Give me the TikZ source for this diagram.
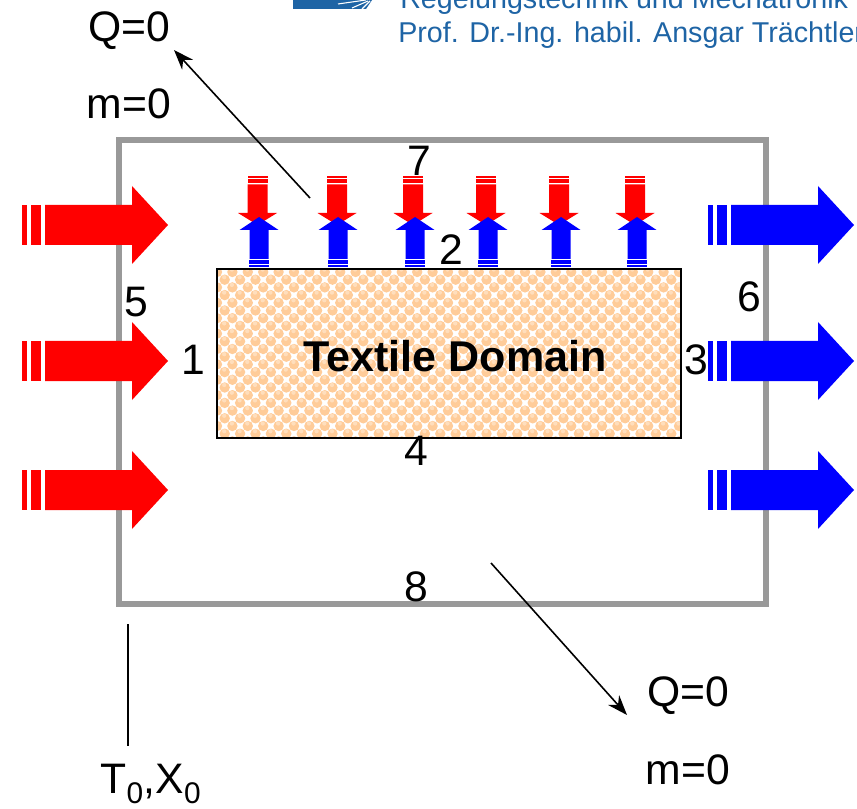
\documentclass[tikz,border=0pt]{standalone}
\usepackage{fontspec}
\setmainfont{Liberation Sans}
\usetikzlibrary{arrows.meta}
\definecolor{boxgray}{RGB}{153,153,153}
\definecolor{logoblue}{RGB}{30,100,165}
\definecolor{bubble}{RGB}{255,204,153}
\definecolor{bubblelight}{RGB}{255,222,188}
\tikzset{
  lbl/.style={font=\fontsize{32}{36}\selectfont,inner sep=0pt,text=black},
  logotext/.style={font=\fontsize{21.5}{24}\selectfont,inner sep=0pt,text=logoblue,anchor=base west},
  thin arrow/.style={draw=black,line width=1.2pt,-{Stealth[length=15pt,width=11pt]}},
  thin line/.style={draw=black,line width=1.2pt}
}
% horizontal big arrow: #1 x offset, #2 y centre, #3 colour
\newcommand{\bigarrow}[3]{%
  \begin{scope}[shift={(#1,#2)}]
    \fill[#3] (22,-20) rectangle (27,20);
    \fill[#3] (31,-20) rectangle (41,20);
    \fill[#3] (45,-20) -- (132,-20) -- (132,-39) -- (168,0) -- (132,39) -- (132,20) -- (45,20) -- cycle;
  \end{scope}}
\newcommand{\downarrowred}[1]{%
  \begin{scope}[shift={(#1,0)}]
    \fill[red] (-10,176) rectangle (10,178);
    \fill[red] (-10,179.5) rectangle (10,183);
    \fill[red] (-10,184.5) -- (10,184.5) -- (10,213) -- (19.5,213) -- (0,225) -- (-19.5,213) -- (-10,213) -- cycle;
  \end{scope}}
\newcommand{\upblue}[1]{%
  \begin{scope}[shift={(#1,0)}]
    \fill[blue] (0,217) -- (19.5,230) -- (9.5,230) -- (9.5,259) -- (-9.5,259) -- (-9.5,230) -- (-19.5,230) -- cycle;
    \fill[blue] (-10,260) rectangle (10,264);
    \fill[blue] (-10,265) rectangle (10,267);
  \end{scope}}
\begin{document}
\begin{tikzpicture}[x=0.75pt,y=-0.75pt]
\useasboundingbox (0,0) rectangle (857,809);
\clip (0,0) rectangle (857,809);
% header
\fill[logoblue] (293,0) -- (372,0) -- (366,9) -- (293,9) -- cycle;
\draw[white,line width=0.8pt] (366,0) -- (338,4);
\draw[white,line width=0.8pt] (368,1) -- (352,8);
\draw[white,line width=0.8pt] (370,1) -- (362,9);
\node[logotext] (head1) at (400,9) {Regelungstechnik und Mechatronik};
\node[logotext] (head2) at (398,43) {Prof. Dr.-Ing. habil. Ansgar Trächtler};
% outer box
\draw[boxgray,line width=3.8pt] (119,140) rectangle (766,604);
% textile domain
\fill[white] (217,269) rectangle (681,438);
\begin{scope}
  \clip (217,269) rectangle (681,438);
  \foreach \r in {0,...,22} {
    \foreach \c in {0,...,62} {
      \pgfmathsetmacro{\xx}{217+\c*7.7}
      \pgfmathsetmacro{\yy}{272+\r*7.7}
      \pgfmathtruncatemacro{\odd}{mod(\r+\c,2)}
      \ifnum\odd=0
        \fill[bubble] (\xx,\yy) circle (3.9pt);
        \fill[bubblelight] (\xx-0.5,\yy-2.5) circle (1.6pt);
      \fi
    }
  }
\end{scope}
\node[draw=black,line width=1.5pt,minimum width=348pt,minimum height=126.75pt,inner sep=0pt] (dom) at (449,353.5) {};
\node[font=\fontsize{32.3}{36}\bfseries\selectfont,inner sep=0pt] (domlabel) at (455,356) {Textile Domain};
% big arrows
\bigarrow{0}{225}{red}\bigarrow{0}{361}{red}\bigarrow{0}{490}{red}
\bigarrow{686}{225}{blue}\bigarrow{686}{361}{blue}\bigarrow{686}{490}{blue}
% small arrows
\foreach \x in {257.5,337,413,486,559,635} {\downarrowred{\x}}
\foreach \x in {259,338,415,488,561,637} {\upblue{\x}}
% labels
\node[lbl] (n7) at (419,161) {7};
\node[lbl] (n2) at (451,250) {2};
\node[lbl] (n5) at (136,302) {5};
\node[lbl] (n6) at (749,297) {6};
\node[lbl] (n1) at (193,360) {1};
\node[lbl] (n3) at (696,360) {3};
\node[lbl] (n4) at (416,451) {4};
\node[lbl] (n8) at (416,587) {8};
\node[lbl] (q1) at (129,31) {Q=0};
\node[lbl] (m1) at (129,104) {m=0};
\node[lbl] (q2) at (688,696) {Q=0};
\node[lbl] (m2) at (688,770) {m=0};
\node[lbl] (t0) at (151,784) {T$_{\mathrm{0}}$,X$_{\mathrm{0}}$};
% connectors
\coordinate (a1) at (310,198);
\coordinate (a1e) at (174,50);
\coordinate (a2) at (491,563);
\coordinate (a2e) at (627,715);
\coordinate (l1) at (128,624);
\coordinate (l2) at (128,746);
\draw[thin arrow] (a1) -- (a1e);
\draw[thin arrow] (a2) -- (a2e);
\draw[thin line] (l1) -- (l2);
\end{tikzpicture}
\end{document}
